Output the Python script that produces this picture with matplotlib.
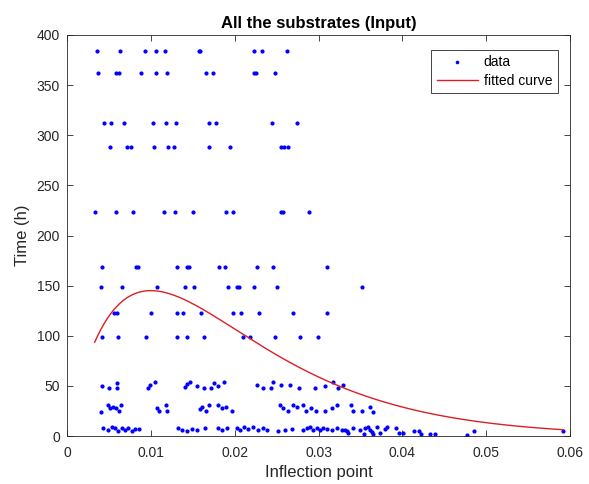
import numpy as np
import matplotlib
matplotlib.use("Agg")
import matplotlib.pyplot as plt

plt.rcParams['font.family'] = ['Liberation Sans', 'DejaVu Sans']

# Inflection points observed at each sampling time (h)
t_384 = [0.00358, 0.00636, 0.00930, 0.01065, 0.01169, 0.01570, 0.01590, 0.02227, 0.02326, 0.02628]
t_362 = [0.00373, 0.00584, 0.00624, 0.00886, 0.01065, 0.01193, 0.01664, 0.01741, 0.02227, 0.02254, 0.02485]
t_312 = [0.00445, 0.00521, 0.00676, 0.01022, 0.01181, 0.01300, 0.01697, 0.01777, 0.02442, 0.02740]
t_288 = [0.00516, 0.00712, 0.00760, 0.01034, 0.01201, 0.01276, 0.01697, 0.01944, 0.02553, 0.02588, 0.02636]
t_223 = [0.00330, 0.00588, 0.00787, 0.01161, 0.01288, 0.01499, 0.01897, 0.01980, 0.02553, 0.02582, 0.02883]
t_169 = [0.00414, 0.00827, 0.00851, 0.01309, 0.01428, 0.01452, 0.01815, 0.01885, 0.02266, 0.02461, 0.03098]
t_149 = [0.00402, 0.00652, 0.01077, 0.01408, 0.01518, 0.01924, 0.02030, 0.02055, 0.02231, 0.02505, 0.03522]
t_123 = [0.00564, 0.00593, 0.00998, 0.01309, 0.01387, 0.01595, 0.01976, 0.02079, 0.02287, 0.02696, 0.03101]
t_99 = [0.00414, 0.00608, 0.00939, 0.01309, 0.01435, 0.01631, 0.02099, 0.02186, 0.02481, 0.02779, 0.02998]

# Early samples (times vary slightly per substrate)
early50_x = [0.00421, 0.00497, 0.00593, 0.00593, 0.00966, 0.00990, 0.01050, 0.01411, 0.01435, 0.01467,
             0.01554, 0.01634, 0.01718, 0.01757, 0.01805, 0.01876, 0.02270, 0.02341, 0.02437, 0.02454,
             0.02556, 0.02660, 0.02764, 0.02955, 0.03074, 0.03176, 0.03232, 0.03289]
early50_t = [49.9, 48.2, 52.9, 48.2, 48.2, 51.2, 53.9, 48.9, 51.9, 54.2,
             49.9, 48.2, 48.2, 52.9, 50.2, 53.9, 50.6, 48.2, 48.2, 53.5,
             50.6, 50.6, 48.2, 48.2, 50.2, 53.9, 48.2, 50.6]

early27_x = [0.00402, 0.00485, 0.00513, 0.00552, 0.00584, 0.00617, 0.00644, 0.01077, 0.01094, 0.01181,
             0.01196, 0.01586, 0.01607, 0.01654, 0.01690, 0.01801, 0.01845, 0.01897, 0.01965, 0.02541,
             0.02580, 0.02640, 0.02692, 0.02740, 0.02819, 0.02851, 0.02907, 0.02970, 0.03081, 0.03157,
             0.03217, 0.03384, 0.03408, 0.03515, 0.03614, 0.03646]
early27_t = [24.3, 30.9, 27.6, 28.6, 27.6, 25.3, 30.9, 27.6, 25.3, 30.9,
             24.6, 26.6, 29.3, 25.3, 30.9, 30.9, 27.6, 28.6, 25.3, 30.9,
             27.6, 25.3, 30.9, 28.6, 30.9, 25.3, 27.6, 25.3, 25.3, 27.6,
             30.9, 30.9, 25.3, 25.3, 29.3, 24.3]

early5_x = [0.00433, 0.00493, 0.00533, 0.00573, 0.00612, 0.00652, 0.00692, 0.00731, 0.00772, 0.00811,
            0.00862, 0.01328, 0.01368, 0.01428, 0.01487, 0.01547, 0.01646, 0.01805, 0.01845, 0.01905,
            0.02024, 0.02064, 0.02111, 0.02163, 0.02222, 0.02282, 0.02334, 0.02382, 0.02520, 0.02600,
            0.02680, 0.02819, 0.02859, 0.02899, 0.02938, 0.02978, 0.03018, 0.03057, 0.03105, 0.03157,
            0.03217, 0.03277, 0.03316, 0.03336, 0.03355, 0.03415, 0.03495, 0.03543, 0.03555, 0.03594,
            0.03614, 0.03634, 0.03654, 0.03694, 0.03733, 0.03793, 0.03813, 0.03924, 0.03964, 0.04011,
            0.04139, 0.04202, 0.04219, 0.04330, 0.04390, 0.04775, 0.04855, 0.05916]
early5_t = [7.7, 5.7, 9.0, 7.7, 5.0, 7.7, 5.7, 7.7, 5.0, 6.7,
            7.2, 7.7, 5.7, 5.0, 7.0, 6.0, 7.7, 7.7, 5.7, 8.3,
            7.7, 5.7, 9.0, 7.0, 9.0, 6.3, 7.7, 5.7, 5.0, 6.3,
            7.0, 5.7, 7.7, 9.0, 6.3, 8.3, 5.7, 7.7, 6.7, 5.7,
            7.7, 6.3, 6.0, 5.3, 2.7, 7.7, 5.7, 2.0, 7.7, 8.7,
            5.7, 4.3, 1.7, 8.7, 3.3, 6.7, 8.7, 7.7, 3.3, 2.7,
            5.3, 5.3, 2.0, 2.0, 2.0, 1.0, 5.3, 5.3]

# Fitted model: t = A * x * exp(-x / s)
fit_peak = 145.0
fit_scale = 0.01
fit_range = (0.0033, 0.0592)

rows = {384: t_384, 362: t_362, 312: t_312, 288: t_288, 223: t_223,
        169: t_169, 149: t_149, 123: t_123, 99: t_99}
x_all = []
y_all = []
for t, xs in rows.items():
    x_all += xs
    y_all += [t] * len(xs)
x_all += early50_x + early27_x + early5_x
y_all += early50_t + early27_t + early5_t

fig = plt.figure(figsize=(5.89, 4.84), dpi=100)
ax = fig.add_axes([67 / 589, 1 - 436 / 484, 503 / 589, 401 / 484])

ax.plot(x_all, y_all, '.', color='#0000ff', markersize=4, label='data')

xf = np.linspace(fit_range[0], fit_range[1], 300)
amp = fit_peak * np.e / fit_scale
yf = amp * xf * np.exp(-xf / fit_scale)
ax.plot(xf, yf, '-', color='#dc1e24', linewidth=1.0, label='fitted curve')

ax.set_xlim(0, 0.06)
ax.set_ylim(0, 400)
ax.set_xticks([0, 0.01, 0.02, 0.03, 0.04, 0.05, 0.06])
ax.set_xticklabels(['0', '0.01', '0.02', '0.03', '0.04', '0.05', '0.06'])
ax.set_yticks(np.arange(0, 401, 50))

dark = '#262626'
for sp in ax.spines.values():
    sp.set_color(dark)
    sp.set_linewidth(0.6)
ax.tick_params(direction='in', length=4, width=0.6, colors=dark, labelsize=10,
               top=True, right=True)
ax.tick_params(axis='x', pad=7)
ax.tick_params(axis='y', pad=5)

ax.set_xlabel('Inflection point', fontsize=12, color=dark, labelpad=4)
ax.set_ylabel('Time (h)', fontsize=12, color=dark, labelpad=5)
ax.set_title('All the substrates (Input)', fontsize=12, fontweight='bold', color='#000000', pad=5)

leg = ax.legend(loc='upper right', bbox_to_anchor=(0.976, 0.963), borderaxespad=0,
                fancybox=False, framealpha=1, edgecolor=dark, fontsize=10,
                handlelength=3.0, handletextpad=0.4, borderpad=0.4, labelspacing=0.3,
                markerscale=0.8)
leg.get_frame().set_linewidth(0.6)

fig.savefig('out.png', dpi=100)
